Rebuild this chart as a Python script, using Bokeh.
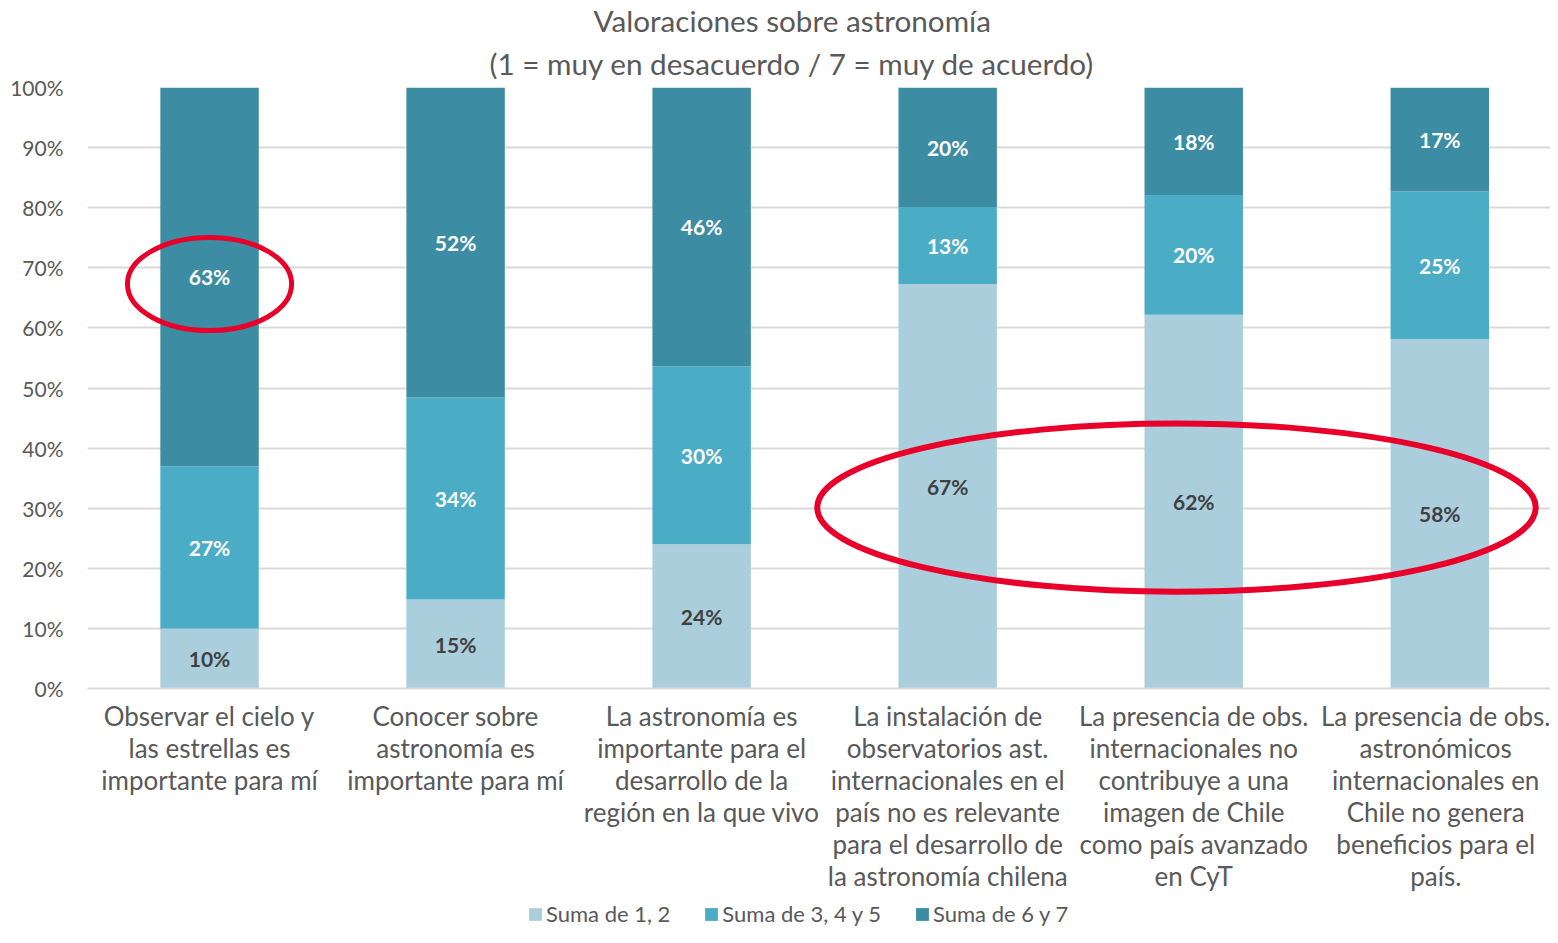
from bokeh.plotting import figure
from bokeh.layouts import column
from bokeh.models import ColumnDataSource, Legend, LegendItem, Title, NumeralTickFormatter, FixedTicker, Range1d
from bokeh.core.properties import value
from bokeh.embed import file_html
from bokeh.resources import INLINE

categories = [
    "Observar el cielo y\nlas estrellas es\nimportante para mí",
    "Conocer sobre\nastronomía es\nimportante para mí",
    "La astronomía es\nimportante para el\ndesarrollo de la\nregión en la que vivo",
    "La instalación de\nobservatorios ast.\ninternacionales en el\npaís no es relevante\npara el desarrollo de\nla astronomía chilena",
    "La presencia de obs.\ninternacionales no\ncontribuye a una\nimagen de Chile\ncomo país avanzado\nen CyT",
    "La presencia de obs.\nastronómicos\ninternacionales en\nChile no genera\nbeneficios para el\npaís.",
]
series_names = ["Suma de 1, 2", "Suma de 3, 4 y 5", "Suma de 6 y 7"]
low = [0.10, 0.148, 0.240, 0.673, 0.622, 0.581]
mid = [0.27, 0.336, 0.296, 0.128, 0.199, 0.246]
high = [0.63, 0.516, 0.464, 0.199, 0.179, 0.173]
y_ticks = [0, 0.1, 0.2, 0.3, 0.4, 0.5, 0.6, 0.7, 0.8, 0.9, 1.0]

# highlight ellipses (annotation): center index, center y, width (categories), height (fraction)
hl_x = [0.0, 3.93]
hl_y = [0.673, 0.301]
hl_w = [0.667, 2.92]
hl_h = [0.155, 0.28]
hl_lw = [5, 6]

colors = ["#AACEDC", "#4BACC6", "#3C8CA3"]
label_colors = ["#404040", "#FFFFFF", "#FFFFFF"]
FONT = "Lato"
GRAY = "#595959"

xs = list(range(len(categories)))
src = ColumnDataSource(dict(x=xs, low=low, mid=mid, high=high))

p = figure(width=1550, height=901, output_backend="svg", toolbar_location=None,
           x_range=Range1d(-0.496, 5.45), y_range=Range1d(0, 1.0),
           min_border_left=87, min_border_right=0, min_border_top=80, min_border_bottom=213)
p.outline_line_color = None
p.background_fill_color = "white"

renderers = p.vbar_stack(["low", "mid", "high"], x="x", width=0.4, color=colors, source=src,
                         line_color=None)

# data labels
series = [low, mid, high]
for i in range(3):
    base = [0.0] * len(xs)
    for j in range(i):
        base = [b + v for b, v in zip(base, series[j])]
    vals = series[i]
    ys = [b + v / 2 for b, v in zip(base, vals)]
    txt = ["%d%%" % round(v * 100) for v in vals]
    p.text(x=xs, y=ys, text=txt, text_align="center", text_baseline="middle",
           text_font=value(FONT), text_font_style="bold", text_font_size="21px",
           text_color=label_colors[i])

p.ellipse(x=hl_x, y=hl_y, width=hl_w, height=hl_h, fill_color=None,
          line_color="#E8002B", line_width=hl_lw)

# axes
p.yaxis.ticker = FixedTicker(ticks=y_ticks)
p.yaxis.formatter = NumeralTickFormatter(format="0%")
p.yaxis.axis_line_color = None
p.yaxis.major_tick_line_color = None
p.yaxis.minor_tick_line_color = None
p.yaxis.major_label_text_font = FONT
p.yaxis.major_label_text_font_size = "21px"
p.yaxis.major_label_text_color = GRAY
p.yaxis.major_label_standoff = 18

p.xaxis.ticker = FixedTicker(ticks=xs)
p.xaxis.major_label_overrides = {i: c for i, c in enumerate(categories)}
p.xaxis.axis_line_color = "#D9D9D9"
p.xaxis.axis_line_width = 2
p.xaxis.major_tick_line_color = None
p.xaxis.minor_tick_line_color = None
p.xaxis.major_label_text_font = FONT
p.xaxis.major_label_text_font_size = "26px"
p.xaxis.major_label_text_line_height = 1.0
p.xaxis.major_label_text_color = GRAY
p.xaxis.major_label_standoff = 5

p.xgrid.grid_line_color = None
p.ygrid.ticker = FixedTicker(ticks=y_ticks)
p.ygrid.grid_line_color = "#D9D9D9"
p.ygrid.grid_line_width = 2
p.ygrid.level = "underlay"

p.add_layout(Title(text="(1 = muy en desacuerdo / 7 = muy de acuerdo)", align="left",
                   text_font=FONT, text_font_size="29.7px", text_font_style="normal",
                   text_color=GRAY, standoff=13, offset=402), "above")
p.add_layout(Title(text="Valoraciones sobre astronomía", align="left",
                   text_font=FONT, text_font_size="29.7px", text_font_style="normal",
                   text_color=GRAY, standoff=0, offset=506), "above")

# legend strip below the chart (legend keys share the series colours, kept out of view)
p2 = figure(width=1550, height=26, output_backend="svg", toolbar_location=None,
            x_range=Range1d(0, 1), y_range=Range1d(0, 1),
            x_axis_location=None, y_axis_location=None,
            min_border_left=0, min_border_right=0, min_border_top=0, min_border_bottom=0)
p2.outline_line_color = None
p2.xgrid.visible = False
p2.ygrid.visible = False
key_src = ColumnDataSource(dict(x=[-5.0], top=[-5.0]))
keys = [p2.vbar(x="x", top="top", bottom="top", width=0.01, color=c, line_color=None, source=key_src)
        for c in colors]
legend = Legend(items=[LegendItem(label=n, renderers=[r]) for n, r in zip(series_names, keys)],
                orientation="horizontal", location=(440, 0),
                label_text_font=FONT, label_text_font_size="22px", label_text_color=GRAY,
                glyph_width=16, glyph_height=16, spacing=33, padding=0, margin=0,
                border_line_color=None, background_fill_alpha=0, label_standoff=3)
p2.add_layout(legend, "center")

open("out.html", "w").write(file_html(column(p, p2, spacing=0), INLINE))
